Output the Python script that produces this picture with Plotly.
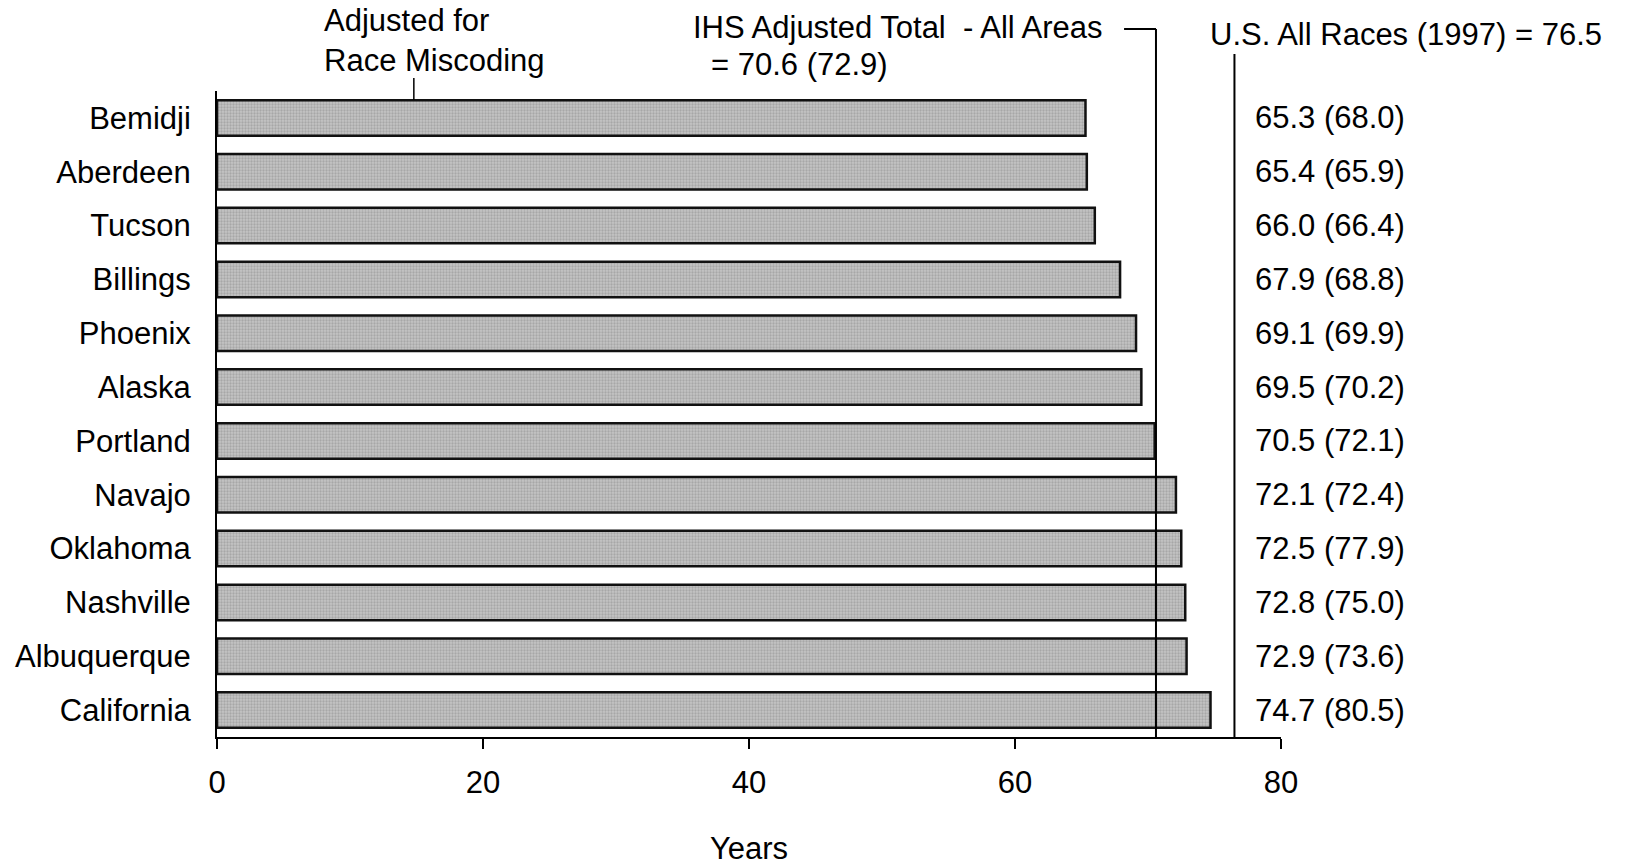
import plotly.graph_objects as go

areas = ["Bemidji", "Aberdeen", "Tucson", "Billings", "Phoenix", "Alaska",
         "Portland", "Navajo", "Oklahoma", "Nashville", "Albuquerque", "California"]
adjusted = [65.3, 65.4, 66.0, 67.9, 69.1, 69.5, 70.5, 72.1, 72.5, 72.8, 72.9, 74.7]
unadjusted = [68.0, 65.9, 66.4, 68.8, 69.9, 70.2, 72.1, 72.4, 77.9, 75.0, 73.6, 80.5]
ihs_total = 70.6
ihs_total_unadj = 72.9
us_all_races = 76.5
x_ticks = [0, 20, 40, 60, 80]

FONT = "Liberation Sans, Arial, sans-serif"
FS = 31

# page has an 8px body margin; size the figure to fit the window
OFF = 8
W, H = 1635 - OFF, 866 - OFF
PLOT_L, PLOT_R, PLOT_T, PLOT_B = 217, 1281, 91, 737   # page pixels
L = PLOT_L - OFF
R = (W + OFF) - PLOT_R
T = PLOT_T - OFF
B = (H + OFF) - PLOT_B
ph = PLOT_B - PLOT_T

def py(pix):
    return (PLOT_B - pix) / ph

fig = go.Figure()
fig.add_trace(go.Bar(
    y=areas, x=adjusted, orientation="h",
    width=0.66,
    marker=dict(color="#bdbdbd", line=dict(color="#111111", width=2.5),
                pattern=dict(shape=".", bgcolor="#c4c4c4", fgcolor="#8a8a8a",
                             size=3, solidity=0.45)),
    hoverinfo="x+y",
))

annotations = []
for a, v, u in zip(areas, adjusted, unadjusted):
    annotations.append(dict(x=77.9, y=a, xref="x", yref="y", text=f"{v:.1f} ({u:.1f})",
                            showarrow=False, xanchor="left", yanchor="middle",
                            font=dict(size=FS, family=FONT, color="black")))

annotations += [
    dict(x=7.93, y=py(40.5), xref="x", yref="paper", text="Adjusted for<br>Race Miscoding",
         showarrow=False, xanchor="left", yanchor="middle", align="left",
         font=dict(size=FS, family=FONT, color="black")),
    dict(x=35.65, y=py(28), xref="x", yref="paper", text="IHS Adjusted Total  - All Areas",
         showarrow=False, xanchor="left", yanchor="middle",
         font=dict(size=FS, family=FONT, color="black")),
    dict(x=37.0, y=py(65), xref="x", yref="paper",
         text=f"= {ihs_total:.1f} ({ihs_total_unadj:.1f})",
         showarrow=False, xanchor="left", yanchor="middle",
         font=dict(size=FS, family=FONT, color="black")),
    dict(x=74.5, y=py(34), xref="x", yref="paper",
         text=f"U.S. All Races (1997) = {us_all_races}",
         showarrow=False, xanchor="left", yanchor="middle",
         font=dict(size=FS, family=FONT, color="black")),
]

shapes = [
    dict(type="line", xref="x", yref="paper", x0=ihs_total, x1=ihs_total, y0=0, y1=py(29),
         line=dict(color="black", width=2)),
    dict(type="line", xref="x", yref="paper", x0=68.2, x1=ihs_total, y0=py(29), y1=py(29),
         line=dict(color="black", width=2)),
    dict(type="line", xref="x", yref="paper", x0=us_all_races, x1=us_all_races, y0=0, y1=py(54),
         line=dict(color="black", width=2)),
    dict(type="line", xref="x", yref="paper", x0=14.8, x1=14.8, y0=py(100), y1=py(78),
         line=dict(color="black", width=1.5)),
]

fig.update_layout(
    width=W, height=H,
    margin=dict(l=L, r=R, t=T, b=B, autoexpand=False),
    paper_bgcolor="white", plot_bgcolor="white",
    showlegend=False,
    font=dict(family=FONT, size=FS, color="black"),
    annotations=annotations,
    shapes=shapes,
)
fig.update_xaxes(
    range=[0, 80], tickvals=x_ticks, showgrid=False, zeroline=False,
    showline=True, linecolor="black", linewidth=2,
    ticks="outside", ticklen=10, tickwidth=2, tickcolor="black",
    ticklabelstandoff=7,
    tickfont=dict(size=FS, family=FONT, color="black"),
    title=dict(text="Years", font=dict(size=FS, family=FONT, color="black"), standoff=38),
)
fig.update_yaxes(
    categoryorder="array", categoryarray=areas, autorange=False, range=[11.5, -0.5],
    showgrid=False, zeroline=False,
    showline=True, linecolor="black", linewidth=2, ticks="",
    ticklabelstandoff=18,
    tickfont=dict(size=FS, family=FONT, color="black"),
)

fig.write_html("out.html")
